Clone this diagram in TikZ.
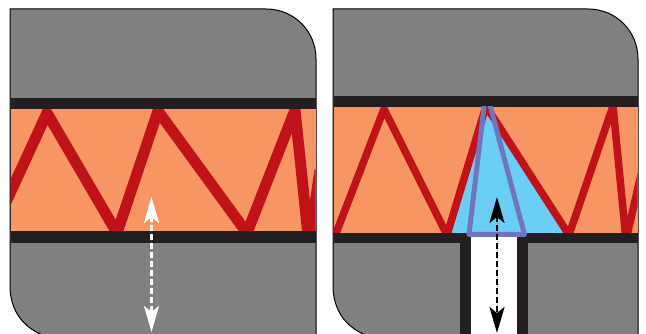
\documentclass[tikz,border=0pt]{standalone}
\usetikzlibrary{arrows.meta}
\definecolor{panelgray}{HTML}{808080}
\definecolor{banddark}{HTML}{231F20}
\definecolor{foam}{HTML}{F79663}
\definecolor{zig}{HTML}{C1121A}
\definecolor{sky}{HTML}{6BCEF5}
\definecolor{violet}{HTML}{6F76BB}
\tikzset{
  panel/.style={fill=panelgray,draw=black,line width=1pt},
  band/.style={fill=banddark},
  foamfill/.style={fill=foam},
  zigline/.style={draw=zig,miter limit=20,line join=miter},
  dblarrow/.style={line width=2.6pt,dash pattern=on 6pt off 3pt,
    {Stealth[length=26pt,width=15pt,inset=6pt]}-{Stealth[length=26pt,width=15pt,inset=6pt]}}
}
\begin{document}
\begin{tikzpicture}[x=1pt,y=-1pt]
\useasboundingbox (0,0) rectangle (646,334);
\clip (0,0) rectangle (646,334);
% left panel
\draw[panel] (10,9) -- (266,9) .. controls (294,9) and (316,31) .. (316,59) -- (316,340) -- (62,340)
  .. controls (30,336) and (10,316) .. (10,286) -- cycle;
\fill[foamfill] (10.5,109) rectangle (315.5,231);
\begin{scope}
  \clip (10.5,109) rectangle (315.5,231);
  \draw[zigline,line width=11pt] (1,213) -- (47,113) -- (117,233) -- (158,111) -- (247,233) -- (295,110) -- (309,245) -- (320,170);
\end{scope}
\fill[band] (10.5,98) rectangle (315.5,109);
\fill[band] (10.5,231) rectangle (315.5,243);
\coordinate (wtop) at (151.5,197);
\coordinate (wbot) at (151.5,332);
\draw[dblarrow,draw=white,fill=white] (wtop) -- (wbot);
% right panel
\draw[panel] (333,9) -- (588,9) .. controls (616,9) and (638,31) .. (638,59) -- (638,340) -- (385,340)
  .. controls (353,336) and (333,316) .. (333,286) -- cycle;
\fill[foamfill] (333.5,107) rectangle (637.5,233);
\begin{scope}
  \clip (333.5,107) rectangle (637.5,233);
  \fill[sky] (486,105) -- (447,233) -- (568,233) -- cycle;
  \draw[zigline,line width=7.5pt] (335,236) -- (384,109) -- (447,235) -- (486,106) -- (569,235) -- (613,106) -- (626,240) -- (642,170);
\end{scope}
\fill[band] (333.5,96) rectangle (637.5,107);
\fill[band] (333.5,233) rectangle (637.5,243);
\fill[band] (460,243) rectangle (528,340);
\fill[white] (471,233) rectangle (517,340);
\begin{scope}
  \clip (333,107) rectangle (638,340);
  \draw[violet,line width=5pt,line join=round] (486,90) -- (469,234.5) -- (524.5,234.5) -- cycle;
\end{scope}
\coordinate (ktop) at (497,197);
\coordinate (kbot) at (497,333);
\draw[dblarrow,draw=black,fill=black] (ktop) -- (kbot);
\end{tikzpicture}
\end{document}
